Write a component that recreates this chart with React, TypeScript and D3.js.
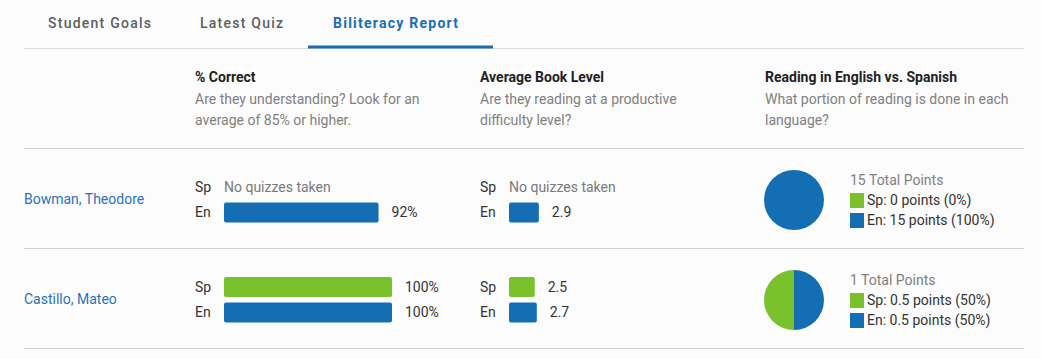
import React from 'react';
import * as d3 from 'd3';

// Tabs and column headers
const tabs = ['Student Goals', 'Latest Quiz', 'Biliteracy Report'];
const activeTab = 2;
const columnTitles = ['% Correct', 'Average Book Level', 'Reading in English vs. Spanish'];
const columnSubtitles = [
  ['Are they understanding? Look for an', 'average of 85% or higher.'],
  ['Are they reading at a productive', 'difficulty level?'],
  ['What portion of reading is done in each', 'language?'],
];

// Per-student values (null = no quizzes taken)
const students = ['Bowman, Theodore', 'Castillo, Mateo'];
const correctSp: (number | null)[] = [null, 100];
const correctEn: (number | null)[] = [92, 100];
const bookSp: (number | null)[] = [null, 2.5];
const bookEn: (number | null)[] = [2.9, 2.7];
const pointsSp = [0, 0.5];
const pointsEn = [15, 0.5];
const totalPoints = [15, 1];
const pctSp = [0, 50];
const pctEn = [100, 50];

const BLUE = '#136eb4';
const GREEN = '#79c22b';
const FONT = 'Roboto, sans-serif';

const W = 1041;
const H = 359;

const App: React.FC = () => {
  const rowY = d3.scaleBand<number>()
    .domain(students.map((_, i) => i))
    .range([149, 349]);

  const pctScale = d3.scaleLinear().domain([0, 100]).range([0, 168]);
  const bookScale = d3.scaleLinear().domain([0, 10]).range([0, 103]);

  const pie = d3.pie<{ lang: string; v: number }>().sort(null).value(d => d.v);
  const arc = d3.arc<d3.PieArcDatum<{ lang: string; v: number }>>().innerRadius(0).outerRadius(30);

  const tabX = [48, 200, 333];

  const barRow = (
    x: number,
    cy: number,
    lang: string,
    value: number | null,
    scale: d3.ScaleLinear<number, number>,
    color: string,
    fmt: (v: number) => string
  ) => (
    <g key={lang + x + cy}>
      <text x={x} y={cy} dy="0.35em" fill="#333" fontSize={14}>{lang}</text>
      {value === null ? (
        <text x={x + 29} y={cy} dy="0.35em" fill="#7a7a7a" fontSize={14}>No quizzes taken</text>
      ) : (
        <>
          <rect x={x + 29} y={cy - 10} width={scale(value)} height={20} rx={2} fill={color} />
          <text x={x + 29 + scale(value) + 13} y={cy} dy="0.35em" fill="#333" fontSize={14}>{fmt(value)}</text>
        </>
      )}
    </g>
  );

  return (
    <svg width={W} height={H} style={{ position: 'absolute', left: 0, top: 0 }} fontFamily={FONT}>
      <rect width={W} height={H} fill="#fcfcfc" />

      {/* tabs */}
      {tabs.map((t, i) => (
        <text key={t} x={tabX[i]} y={23} dy="0.35em" fontSize={14} letterSpacing={1.25}
          fontWeight={i === activeTab ? 700 : 500}
          fill={i === activeTab ? '#1a6db3' : '#5c5f63'}>{t}</text>
      ))}
      <line x1={24} x2={1024} y1={48.5} y2={48.5} stroke="#dcdcdc" />
      <rect x={308} y={45.5} width={185} height={3} fill="#1a6db3" />

      {/* headers */}
      {columnTitles.map((t, i) => {
        const x = [195, 480, 765][i];
        return (
          <g key={t}>
            <text x={x} y={77.5} dy="0.35em" fontSize={14} fontWeight={700} fill="#222">{t}</text>
            {columnSubtitles[i].map((s, j) => (
              <text key={s} x={x} y={99.5 + j * 21} dy="0.35em" fontSize={14} fill="#808080">{s}</text>
            ))}
          </g>
        );
      })}
      <line x1={24} x2={1024} y1={148.5} y2={148.5} stroke="#cfcfcf" />

      {/* student rows */}
      {students.map((name, i) => {
        const top = rowY(i)!;
        const mid = top + rowY.bandwidth() / 2;
        const spY = top + 38;
        const enY = top + 63.5;
        const slices = pie([
          { lang: 'En', v: pointsEn[i] },
          { lang: 'Sp', v: pointsSp[i] },
        ]);
        return (
          <g key={name}>
            <text x={24} y={mid} dy="0.35em" fontSize={14} fill="#2a72bd">{name}</text>

            {barRow(195, spY, 'Sp', correctSp[i], pctScale, GREEN, v => `${v}%`)}
            {barRow(195, enY, 'En', correctEn[i], pctScale, BLUE, v => `${v}%`)}
            {barRow(480, spY, 'Sp', bookSp[i], bookScale, GREEN, v => v.toFixed(1))}
            {barRow(480, enY, 'En', bookEn[i], bookScale, BLUE, v => v.toFixed(1))}

            <g transform={`translate(794,${mid + 1})`}>
              {slices.map(s => (
                <path key={s.data.lang} d={arc(s) || ''} fill={s.data.lang === 'En' ? BLUE : GREEN} />
              ))}
            </g>

            <text x={850} y={top + 31} dy="0.35em" fontSize={14} fill="#808080">{totalPoints[i]} Total Points</text>
            <rect x={850} y={top + 44} width={14} height={15} fill={GREEN} />
            <text x={867} y={top + 51.5} dy="0.35em" fontSize={14} fill="#333">
              Sp: {pointsSp[i]} points ({pctSp[i]}%)
            </text>
            <rect x={850} y={top + 64} width={14} height={15} fill={BLUE} />
            <text x={867} y={top + 71.5} dy="0.35em" fontSize={14} fill="#333">
              En: {pointsEn[i]} points ({pctEn[i]}%)
            </text>

            <line x1={24} x2={1024} y1={top + 99.5} y2={top + 99.5} stroke="#cfcfcf" />
          </g>
        );
      })}
    </svg>
  );
};

export default App;
